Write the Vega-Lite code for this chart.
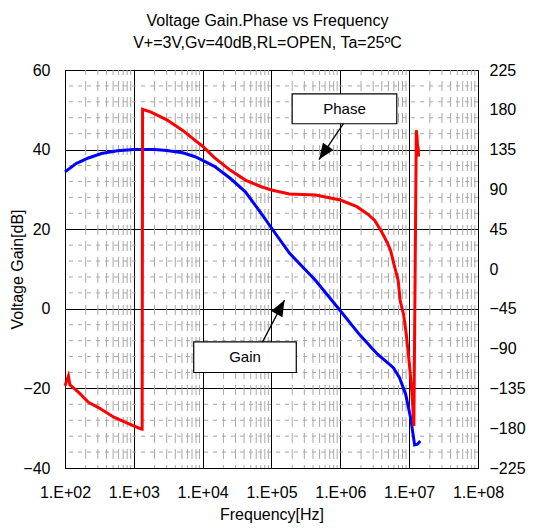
{
  "$schema": "https://vega.github.io/schema/vega-lite/v6.json",
  "width": 413,
  "height": 398,
  "autosize": {"type": "none"},
  "padding": {"left": 65, "top": 70, "right": 75, "bottom": 60},
  "background": "white",
  "config": {"font": "Liberation Sans", "view": {"stroke": "black", "strokeWidth": 1}},
  "title": {
    "text": ["Voltage Gain.Phase vs Frequency", "V+=3V,Gv=40dB,RL=OPEN, Ta=25ºC"],
    "fontSize": 16, "fontWeight": "normal", "color": "black", "lineHeight": 22,
    "anchor": "middle", "offset": 11, "dx": -4, "font": "Liberation Sans"
  },
  "datasets": {
    "gain": [
      {"f": 100, "g": 34.4}, {"f": 145, "g": 36.5}, {"f": 219, "g": 37.9}, {"f": 339, "g": 39.0},
      {"f": 575, "g": 39.7}, {"f": 1000, "g": 40.0}, {"f": 2000, "g": 40.0}, {"f": 3020, "g": 39.8},
      {"f": 5130, "g": 39.2}, {"f": 7760, "g": 38.2}, {"f": 10000, "g": 37.3}, {"f": 14800, "g": 35.8},
      {"f": 25100, "g": 32.8}, {"f": 41700, "g": 29.4}, {"f": 70800, "g": 24.0}, {"f": 100000, "g": 20.3},
      {"f": 182000, "g": 14.0}, {"f": 437000, "g": 7.1}, {"f": 1000000, "g": -0.5}, {"f": 1860000, "g": -6.3},
      {"f": 2950000, "g": -10.1}, {"f": 3470000, "g": -11.4}, {"f": 5890000, "g": -14.8}, {"f": 7240000, "g": -17.3},
      {"f": 8910000, "g": -21.5}, {"f": 10500000, "g": -27.4}, {"f": 12000000, "g": -34.2}, {"f": 13200000, "g": -34.0},
      {"f": 14500000, "g": -33.2}
    ],
    "phase": [
      {"f": 100, "p": -132}, {"f": 112, "p": -121}, {"f": 118, "p": -131}, {"f": 158, "p": -139.5},
      {"f": 219, "p": -150.7}, {"f": 302, "p": -156.4}, {"f": 513, "p": -167.6}, {"f": 851, "p": -175},
      {"f": 1250, "p": -180.6}, {"f": 1320, "p": -181}, {"f": 1340, "p": 180.5}, {"f": 1780, "p": 177.4},
      {"f": 3020, "p": 168.7}, {"f": 5130, "p": 156.7}, {"f": 7760, "p": 145.5}, {"f": 10000, "p": 138.8},
      {"f": 14800, "p": 126}, {"f": 25100, "p": 111.8}, {"f": 41700, "p": 100.5}, {"f": 70800, "p": 93},
      {"f": 100000, "p": 89.3}, {"f": 182000, "p": 84.8}, {"f": 437000, "p": 83.6}, {"f": 1000000, "p": 78},
      {"f": 1740000, "p": 70.5}, {"f": 2510000, "p": 62}, {"f": 3160000, "p": 55}, {"f": 3980000, "p": 42},
      {"f": 4790000, "p": 30}, {"f": 5370000, "p": 21}, {"f": 6030000, "p": 5}, {"f": 6920000, "p": -13},
      {"f": 7410000, "p": -36}, {"f": 8320000, "p": -52}, {"f": 9120000, "p": -75}, {"f": 10000000, "p": -105},
      {"f": 10700000, "p": -130}, {"f": 11200000, "p": -150}, {"f": 11700000, "p": -177.5}, {"f": 12700000, "p": 157},
      {"f": 13000000, "p": 150}, {"f": 13200000, "p": 140}, {"f": 13500000, "p": 137}, {"f": 13700000, "p": 127}
    ],
    "xminor": [
      {"f": 200}, {"f": 300}, {"f": 400}, {"f": 500}, {"f": 600}, {"f": 700}, {"f": 800}, {"f": 900},
      {"f": 2000}, {"f": 3000}, {"f": 4000}, {"f": 5000}, {"f": 6000}, {"f": 7000}, {"f": 8000}, {"f": 9000},
      {"f": 20000}, {"f": 30000}, {"f": 40000}, {"f": 50000}, {"f": 60000}, {"f": 70000}, {"f": 80000}, {"f": 90000},
      {"f": 200000}, {"f": 300000}, {"f": 400000}, {"f": 500000}, {"f": 600000}, {"f": 700000}, {"f": 800000}, {"f": 900000},
      {"f": 2000000}, {"f": 3000000}, {"f": 4000000}, {"f": 5000000}, {"f": 6000000}, {"f": 7000000}, {"f": 8000000}, {"f": 9000000},
      {"f": 20000000}, {"f": 30000000}, {"f": 40000000}, {"f": 50000000}, {"f": 60000000}, {"f": 70000000}, {"f": 80000000}, {"f": 90000000}
    ],
    "yminor": [
      {"g": -36}, {"g": -32}, {"g": -28}, {"g": -24}, {"g": -16}, {"g": -12}, {"g": -8}, {"g": -4},
      {"g": 4}, {"g": 8}, {"g": 12}, {"g": 16}, {"g": 24}, {"g": 28}, {"g": 32}, {"g": 36},
      {"g": 44}, {"g": 48}, {"g": 52}, {"g": 56}
    ],
    "notes": [
      {"label": "Phase", "f1": 199500, "f2": 6607000, "g1": 46.5, "g2": 54.0, "fc": 1148000, "gc": 50.2},
      {"label": "Gain", "f1": 7413, "f2": 229100, "g1": -16.0, "g2": -8.3, "fc": 41210, "gc": -12.2}
    ],
    "arrows": [
      {"label": "Phase", "fs": 1109000, "gs": 46.5, "ft": 489800, "gt": 37.5},
      {"label": "Gain", "fs": 74130, "gs": -8.3, "ft": 154900, "gt": 2.2}
    ]
  },
  "layer": [
    {
      "data": {"name": "xminor"},
      "mark": {"type": "rule", "color": "#a8a8a8", "strokeWidth": 1, "strokeDash": [10, 6], "strokeDashOffset": 5},
      "encoding": {
        "x": {"field": "f", "type": "quantitative", "scale": {"type": "log", "domain": [100, 100000000], "nice": false}, "axis": null}
      }
    },
    {
      "data": {"name": "yminor"},
      "mark": {"type": "rule", "color": "#a8a8a8", "strokeWidth": 1, "strokeDash": [4, 5]},
      "encoding": {
        "y": {"field": "g", "type": "quantitative", "scale": {"domain": [-40, 60], "nice": false, "zero": false}, "axis": null}
      }
    },
    {
      "data": {"name": "gain"},
      "mark": {"type": "line", "color": "#0000ff", "strokeWidth": 3},
      "encoding": {
        "x": {
          "field": "f", "type": "quantitative",
          "scale": {"type": "log", "domain": [100, 100000000], "nice": false},
          "axis": {
            "values": [100, 1000, 10000, 100000, 1000000, 10000000, 100000000],
            "labelExpr": "'1.E+0' + round(log(datum.value)/LN10)",
            "grid": true, "gridColor": "black", "gridWidth": 1, "gridOpacity": 1,
            "domain": false, "ticks": false, "labelFlush": false, "labelOverlap": false,
            "labelPadding": 16, "labelFontSize": 16, "labelColor": "black",
            "title": "Frequency[Hz]", "titleFontSize": 16, "titleFontWeight": "normal", "titleColor": "black", "titlePadding": 6
          }
        },
        "y": {
          "field": "g", "type": "quantitative",
          "scale": {"domain": [-40, 60], "nice": false, "zero": false},
          "axis": {
            "orient": "left", "values": [-40, -20, 0, 20, 40, 60],
            "grid": true, "gridColor": "black", "gridWidth": 1, "gridOpacity": 1,
            "domain": false, "ticks": false, "labelPadding": 15, "labelFontSize": 16, "labelColor": "black",
            "title": "Voltage Gain[dB]", "titleFontSize": 16, "titleFontWeight": "normal", "titleColor": "black",
            "titleX": -48, "titleY": 199, "titleBaseline": "middle", "titleAlign": "center", "titleAngle": -90
          }
        }
      }
    },
    {
      "data": {"name": "notes"},
      "mark": {"type": "rect", "fill": "white", "stroke": "black", "strokeWidth": 1.2},
      "encoding": {
        "x": {"field": "f1", "type": "quantitative", "scale": {"type": "log", "domain": [100, 100000000], "nice": false}, "axis": null},
        "x2": {"field": "f2"},
        "y": {"field": "g1", "type": "quantitative", "scale": {"domain": [-40, 60], "nice": false, "zero": false}, "axis": null},
        "y2": {"field": "g2"}
      }
    },
    {
      "data": {"name": "notes"},
      "mark": {"type": "text", "fontSize": 15, "color": "black", "align": "center", "baseline": "middle"},
      "encoding": {
        "x": {"field": "fc", "type": "quantitative", "scale": {"type": "log", "domain": [100, 100000000], "nice": false}, "axis": null},
        "y": {"field": "gc", "type": "quantitative", "scale": {"domain": [-40, 60], "nice": false, "zero": false}, "axis": null},
        "text": {"field": "label"}
      }
    },
    {
      "data": {"name": "arrows"},
      "mark": {"type": "rule", "color": "black", "strokeWidth": 1.3},
      "encoding": {
        "x": {"field": "fs", "type": "quantitative", "scale": {"type": "log", "domain": [100, 100000000], "nice": false}, "axis": null},
        "y": {"field": "gs", "type": "quantitative", "scale": {"domain": [-40, 60], "nice": false, "zero": false}, "axis": null},
        "x2": {"field": "ft"},
        "y2": {"field": "gt"}
      }
    },
    {
      "data": {"name": "arrows"},
      "transform": [{"filter": "datum.label == 'Phase'"}],
      "mark": {"type": "point", "shape": "M0,0L-0.4,1L0.4,1Z", "size": 1024, "filled": true, "color": "black", "opacity": 1, "angle": 215},
      "encoding": {
        "x": {"field": "ft", "type": "quantitative", "scale": {"type": "log", "domain": [100, 100000000], "nice": false}, "axis": null},
        "y": {"field": "gt", "type": "quantitative", "scale": {"domain": [-40, 60], "nice": false, "zero": false}, "axis": null}
      }
    },
    {
      "data": {"name": "arrows"},
      "transform": [{"filter": "datum.label == 'Gain'"}],
      "mark": {"type": "point", "shape": "M0,0L-0.4,1L0.4,1Z", "size": 1024, "filled": true, "color": "black", "opacity": 1, "angle": 29},
      "encoding": {
        "x": {"field": "ft", "type": "quantitative", "scale": {"type": "log", "domain": [100, 100000000], "nice": false}, "axis": null},
        "y": {"field": "gt", "type": "quantitative", "scale": {"domain": [-40, 60], "nice": false, "zero": false}, "axis": null}
      }
    },
    {
      "data": {"name": "phase"},
      "mark": {"type": "line", "color": "#ff0000", "strokeWidth": 3},
      "encoding": {
        "x": {"field": "f", "type": "quantitative", "scale": {"type": "log", "domain": [100, 100000000], "nice": false}, "axis": null},
        "y": {
          "field": "p", "type": "quantitative",
          "scale": {"domain": [-225, 225], "nice": false, "zero": false},
          "axis": {
            "orient": "right", "values": [-225, -180, -135, -90, -45, 0, 45, 90, 135, 180, 225],
            "grid": false, "domain": false, "ticks": false, "labelPadding": 11, "labelFontSize": 16, "labelColor": "black",
            "title": null
          }
        }
      }
    }
  ],
  "resolve": {"scale": {"y": "independent"}, "axis": {"x": "independent"}}
}
